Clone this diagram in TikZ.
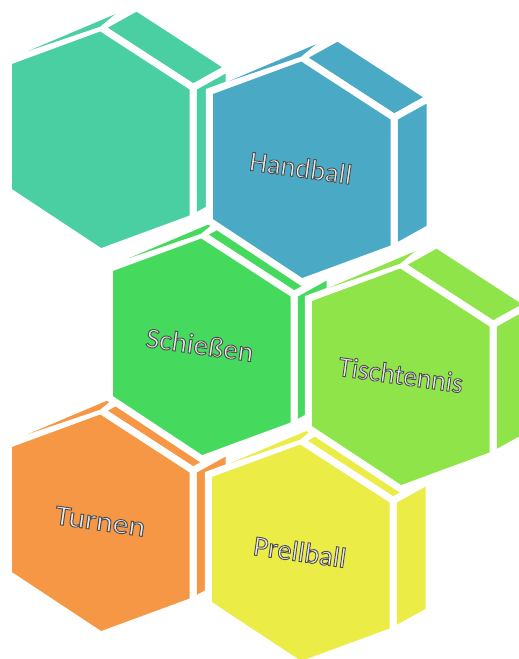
\documentclass[tikz,border=0pt]{standalone}
\usepackage{fontspec}
\setmainfont{Carlito}
\definecolor{cteal}{RGB}{74,207,162}
\definecolor{cblue}{RGB}{74,170,197}
\definecolor{cgreen}{RGB}{69,218,94}
\definecolor{clime}{RGB}{143,228,74}
\definecolor{corange}{RGB}{245,151,69}
\definecolor{cyellow}{RGB}{236,236,70}
\tikzset{
  face/.style={fill=#1, draw=white, line width=7pt},
  lbl/.style={font=\fontsize{28.5}{34}\selectfont, rotate=-8, inner sep=0pt,
              text height=0.68em, text depth=0pt, text=white!92!black},
}
% outlined text: fill + stroke text rendering mode
\newcommand\outlinetext[1]{%
  \special{pdf:literal direct 2 Tr 0.9 w 0.30 0.30 0.30 RG}#1\special{pdf:literal direct 0 Tr}}
\newcommand\hexprism[3]{%
  \begin{scope}[shift={(#2,#3)}]
    % top-right face
    \path[face=#1] (0,-112.25) -- (36,-132.25) -- (128.4,-72.25) -- (92.4,-52.25) -- cycle;
    % right face
    \path[face=#1] (92.4,-52.25) -- (128.4,-72.25) -- (128.4,58.25) -- (92.4,78.25) -- cycle;
    % front face
    \path[face=#1] (0,-112.25) -- (92.4,-52.25) -- (92.4,78.25) -- (0,112.25)
      -- (-92.4,51.25) -- (-92.4,-78.25) -- cycle;
    % top-left sliver
    \fill[#1] (-72.4,-88.75) -- (14.3,-125.45) -- (-0.7,-113.05) -- cycle;
  \end{scope}}
\begin{document}
\begin{tikzpicture}[x=1pt,y=-1pt]
  \useasboundingbox (0,0) rectangle (519,659);
  \hexprism{corange}{100.7}{522.75}
  \hexprism{cyellow}{300.7}{552.75}
  \hexprism{cgreen}{201.7}{346.75}
  \hexprism{clime}{400.7}{376.75}
  \hexprism{cteal}{100.7}{139.75}
  \hexprism{cblue}{301.7}{169.75}
  \node[lbl] (hb)  at (300,174)   {\outlinetext{Handball}};
  \node[lbl, xscale=1.03] (sch) at (199,351) {\outlinetext{Schießen}};
  \node[lbl, xscale=0.97] (tt)  at (400,381) {\outlinetext{Tischtennis}};
  \node[lbl, xscale=1.12] (tu)  at (99.5,527) {\outlinetext{Turnen}};
  \node[lbl] (pb)  at (299,558)   {\outlinetext{Prellball}};
\end{tikzpicture}
\end{document}
